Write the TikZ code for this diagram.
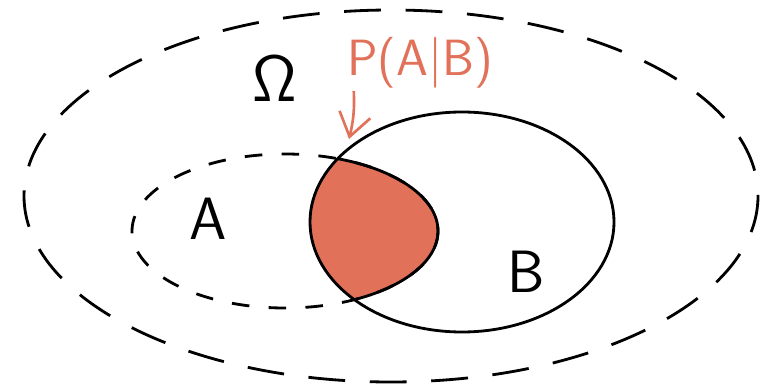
\documentclass[tikz,border=0pt]{standalone}
\usepackage{tikz}
\usetikzlibrary{arrows.meta, calc}
\usepackage{xcolor}
\definecolor{salmon}{HTML}{E2715A}

\begin{document}
\begin{tikzpicture}[
  x=0.02cm, y=-0.02cm,
  set/.style    = {line width=1.6pt, black},
  bigdash/.style = {set, dash pattern=on 21pt off 14pt},
  smalldash/.style = {set, dash pattern=on 10pt off 11pt},
  lbl/.style    = {font=\sffamily\fontsize{34}{38}\selectfont, inner sep=0pt},
  arr/.style    = {-{Straight Barb[length=13pt, width=18pt]}, line width=1.5pt, salmon}
]
\useasboundingbox (0,0) rectangle (763,388);
% universe
\draw[bigdash] (391,196) ellipse [x radius=367, y radius=186];
% intersection
\begin{scope}
  \clip (285,231) ellipse [x radius=153, y radius=77];
  \fill[salmon] (462,222) ellipse [x radius=152, y radius=110];
\end{scope}
% sets A and B
\draw[smalldash] (285,231) ellipse [x radius=153, y radius=77];
\begin{scope}
  \clip (462,222) ellipse [x radius=152, y radius=110];
  \draw[set] (285,231) ellipse [x radius=153, y radius=77];
\end{scope}
\draw[set] (462,222) ellipse [x radius=152, y radius=110];
% labels
\node[lbl] (omega) at (275,79) {\scalebox{1.5}{$\mathsf{\Omega}$}};
\node[lbl] (A) at (208,219) {A};
\node[lbl] (B) at (526,272) {B};
\node[lbl, salmon, font=\sffamily\fontsize{29}{32}\selectfont]
  (P) at (420,63) {P(A|B)};
% arrow
\coordinate (tail) at ($(P.south west)+(7,2)$);
\coordinate (cap) at (349,139);
\draw[arr] (tail) to[bend left=8] (cap);
\end{tikzpicture}
\end{document}
